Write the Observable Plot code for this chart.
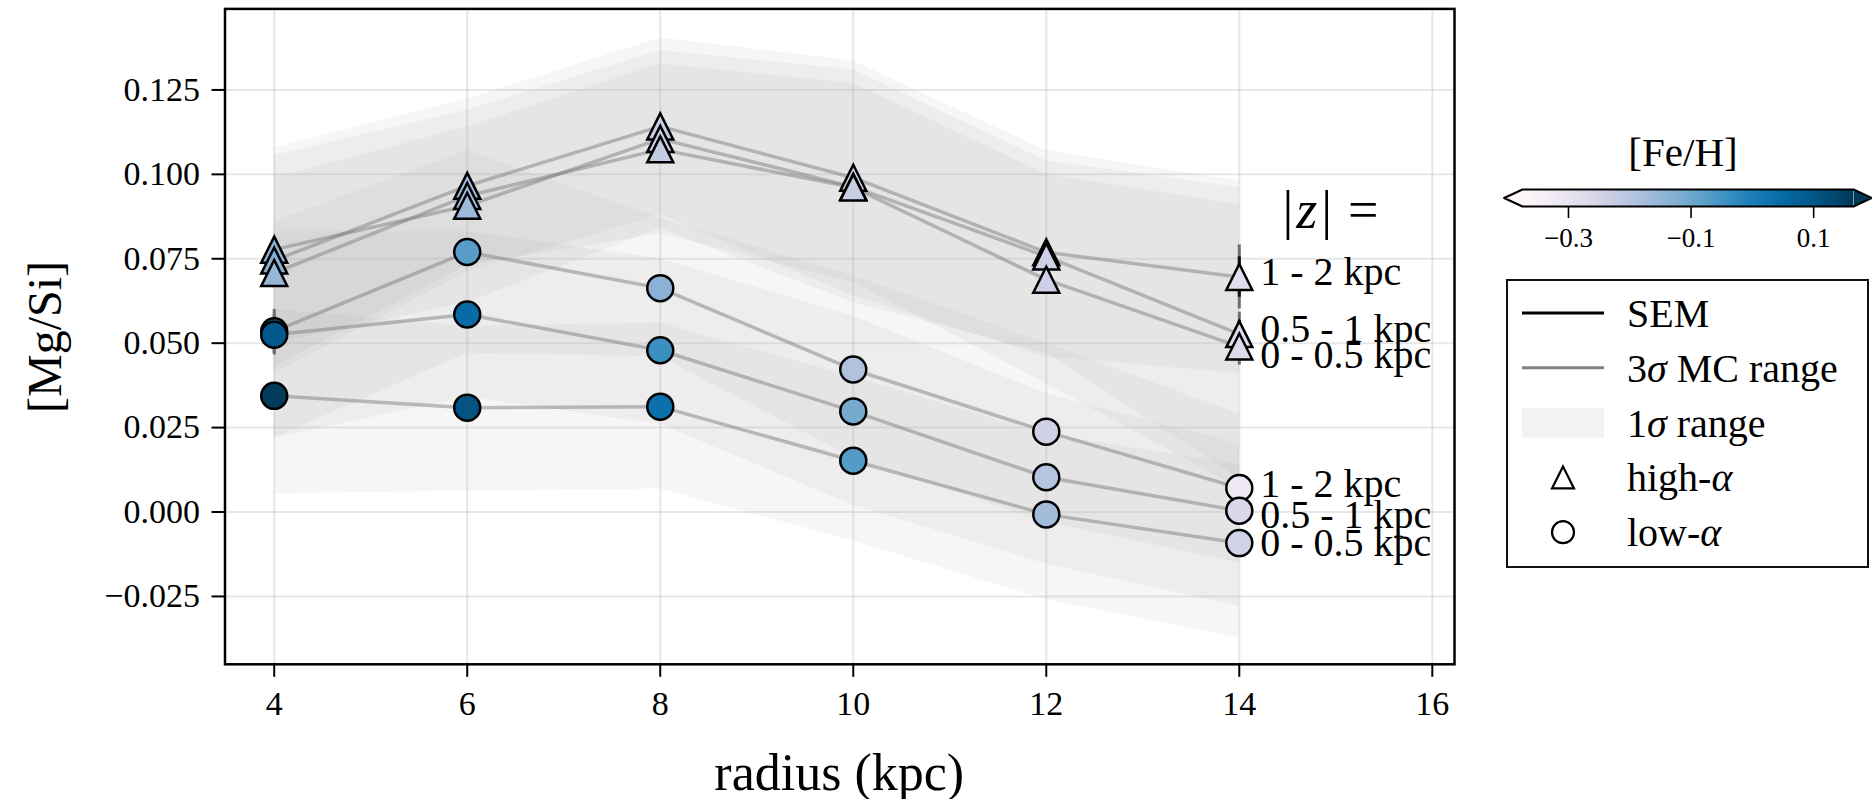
<!DOCTYPE html>
<html>
<head>
<meta charset="utf-8">
<script src="https://cdn.jsdelivr.net/npm/d3@7"></script>
<script src="https://cdn.jsdelivr.net/npm/@observablehq/plot@0.6"></script>
<style>
  body { margin: 0; background: #fff; }
  #wrap { position: relative; width: 1872px; height: 799px; overflow: hidden;
          font-family: "Liberation Serif", "DejaVu Serif", serif; }
  #wrap > svg, #wrap > div { position: absolute; }
</style>
</head>
<body>
<div id="wrap"></div>
<script>
const FONT = '"Liberation Serif", "DejaVu Serif", serif';

// Galactocentric radius bins (kpc) and |z| slices
const radius = [4, 6, 8, 10, 12, 14];
const zBins = ["0 - 0.5 kpc", "0.5 - 1 kpc", "1 - 2 kpc"];
const xTicks = [4, 6, 8, 10, 12, 14, 16];
const yTicks = [-0.025, 0, 0.025, 0.05, 0.075, 0.1, 0.125];
const fehTicks = [-0.3, -0.1, 0.1];
const fehDomain = [-0.375, 0.165];

// high-alpha population, one row per |z| bin (same order as zBins)
const highMgSi = [
  [0.0708, 0.0936, 0.1074, 0.0961, 0.0688, 0.0490],
  [0.0777, 0.0907, 0.1105, 0.0963, 0.0757, 0.0527],
  [0.0745, 0.0966, 0.1142, 0.0990, 0.0769, 0.0696]
];
const highFeH = [
  [-0.15, -0.17, -0.22, -0.23, -0.24, -0.27],
  [-0.14, -0.16, -0.23, -0.23, -0.24, -0.27],
  [-0.13, -0.16, -0.23, -0.24, -0.25, -0.28]
];
const highLo = [
  [0.043, 0.073, 0.0824, 0.068, 0.038, 0.007],
  [0.050, 0.062, 0.084, 0.062, 0.047, 0.010],
  [0.041, 0.071, 0.088, 0.064, 0.046, 0.041]
];
const highHi = [
  [0.099, 0.114, 0.1327, 0.127, 0.100, 0.091],
  [0.1055, 0.119, 0.1366, 0.131, 0.104, 0.096],
  [0.1078, 0.1223, 0.1404, 0.1336, 0.107, 0.098]
];
const highSem = [
  [0.002, 0.002, 0.002, 0.002, 0.002, 0.004],
  [0.002, 0.002, 0.002, 0.002, 0.002, 0.004],
  [0.002, 0.002, 0.002, 0.002, 0.002, 0.006]
];
const highMc = [
  [0.003, 0.003, 0.003, 0.003, 0.003, 0.0055],
  [0.003, 0.003, 0.003, 0.003, 0.003, 0.0065],
  [0.003, 0.003, 0.003, 0.003, 0.003, 0.0095]
];

// low-alpha population
const lowMgSi = [
  [0.0344, 0.0309, 0.0312, 0.0152, -0.0007, -0.0092],
  [0.0525, 0.0585, 0.0479, 0.0298, 0.0103, 0.0004],
  [0.0535, 0.0770, 0.0663, 0.0422, 0.0238, 0.0071]
];
const lowFeH = [
  [0.16, 0.11, 0.035, -0.07, -0.17, -0.245],
  [0.095, 0.046, -0.04, -0.11, -0.197, -0.262],
  [0.09, -0.073, -0.137, -0.19, -0.243, -0.316]
];
const lowLo = [
  [0.0053, 0.0062, 0.0068, -0.0086, -0.026, -0.0373],
  [0.0219, 0.034, 0.026, 0.002, -0.0154, -0.028],
  [0.022, 0.047, 0.046, 0.016, -0.003, -0.015]
];
const lowHi = [
  [0.060, 0.055, 0.056, 0.040, 0.023, 0.014],
  [0.083, 0.083, 0.075, 0.058, 0.035, 0.020],
  [0.086, 0.107, 0.087, 0.070, 0.050, 0.029]
];
const lowSem = [
  [0.002, 0.002, 0.002, 0.002, 0.002, 0.002],
  [0.004, 0.002, 0.002, 0.002, 0.002, 0.002],
  [0.004, 0.002, 0.002, 0.002, 0.002, 0.002]
];
const lowMc = [
  [0.003, 0.003, 0.003, 0.003, 0.003, 0.003],
  [0.006, 0.003, 0.003, 0.003, 0.003, 0.003],
  [0.0065, 0.003, 0.003, 0.003, 0.003, 0.003]
];

// vertical nudge (px) of the |z| slice labels at the outer radius, to keep them apart
const highLabelNudge = [8.5, -5, -4.5];
const lowLabelNudge = [0, 4.5, -4];

// position of the "|z| =" heading, in data units
const zHeading = {r: 14.95, v: 0.0894};

function table(pop, mean, feh, lo, hi, sem, mc, nudge) {
  const out = [];
  zBins.forEach((z, j) => radius.forEach((r, i) => out.push({
    pop, z, key: pop + z, r,
    v: mean[j][i], feh: feh[j][i], lo: lo[j][i], hi: hi[j][i],
    sem: sem[j][i], mc: mc[j][i], nudge: nudge[j]
  })));
  return out;
}
const highRows = table("high", highMgSi, highFeH, highLo, highHi, highSem, highMc, highLabelNudge);
const lowRows = table("low", lowMgSi, lowFeH, lowLo, lowHi, lowSem, lowMc, lowLabelNudge);
const allRows = highRows.concat(lowRows);
const byValue = (a, b) => b.v - a.v;
const endRows = allRows.filter(d => d.r === radius[radius.length - 1]);

// matplotlib-style "^" marker: as wide as it is tall
const triangleUp = {
  draw(ctx, size) {
    const h = Math.sqrt(size / Math.PI);
    ctx.moveTo(0, -h);
    ctx.lineTo(h, h);
    ctx.lineTo(-h, h);
    ctx.closePath();
  }
};

const colorScale = {type: "linear", scheme: "PuBu", domain: fehDomain, clamp: true};

const chart = Plot.plot({
  width: 1872,
  height: 799,
  marginLeft: 224.5,
  marginRight: 418,
  marginTop: 8.4,
  marginBottom: 135.2,
  style: {fontFamily: FONT, fontSize: "34px", color: "black", background: "transparent"},
  x: {domain: [3.49, 16.23]},
  y: {domain: [-0.0451, 0.149]},
  color: colorScale,
  marks: [
    Plot.areaY(allRows, {x: "r", y1: "lo", y2: "hi", z: "key", fill: "#808080", fillOpacity: 0.075}),
    Plot.gridX(xTicks, {stroke: "#b0b0b0", strokeOpacity: 0.3, strokeWidth: 2}),
    Plot.gridY(yTicks, {stroke: "#b0b0b0", strokeOpacity: 0.3, strokeWidth: 2}),
    Plot.line(allRows, {x: "r", y: "v", z: "key", stroke: "#808080", strokeOpacity: 0.5, strokeWidth: 3.5}),
    Plot.ruleX(allRows, {x: "r", y1: d => d.v - d.mc, y2: d => d.v + d.mc, stroke: "#6e6e6e", strokeWidth: 3}),
    Plot.ruleX(allRows, {x: "r", y1: d => d.v - d.sem, y2: d => d.v + d.sem, stroke: "#111", strokeWidth: 3}),
    Plot.dot(highRows.slice().sort(byValue), {x: "r", y: "v", r: 13, symbol: triangleUp, fill: "feh", stroke: "black", strokeWidth: 2.5}),
    Plot.dot(lowRows.slice().sort(byValue), {x: "r", y: "v", r: 13, symbol: "circle", fill: "feh", stroke: "black", strokeWidth: 2.5}),
    ...endRows.map(d => Plot.text([d], {x: "r", y: "v", text: "z", textAnchor: "start", dx: 21, dy: d.nudge, fontSize: 40, lineAnchor: "middle"})),
    Plot.axisX(xTicks, {tickSize: 13, tickPadding: 14, strokeWidth: 2, label: null}),
    Plot.axisY(yTicks, {tickSize: 13, tickPadding: 12, strokeWidth: 2, label: null, tickFormat: d3.format(".3f")}),
    Plot.frame({stroke: "black", strokeWidth: 2.5})
  ]
});

const wrap = document.getElementById("wrap");
chart.style.left = "0px";
chart.style.top = "0px";
wrap.appendChild(chart);

// colour bar for [Fe/H], with extension arrows at both ends
const cbExt = 0.03;
const cbN = 240;
const cbStep = (fehDomain[1] - fehDomain[0]) / cbN;
const cbSteps = d3.range(cbN).map(i => fehDomain[0] + i * cbStep);
const [f0, f1] = fehDomain;
const cbar = Plot.plot({
  width: 382,
  height: 100,
  marginLeft: 32,
  marginRight: 19,
  marginTop: 14,
  marginBottom: 69,
  style: {fontFamily: FONT, fontSize: "27px", color: "black", background: "transparent", overflow: "visible"},
  x: {domain: fehDomain},
  y: {domain: [0, 1], axis: null},
  color: colorScale,
  marks: [
    Plot.rect(cbSteps, {x1: d => d, x2: d => Math.min(d + cbStep * 1.8, f1), y1: 0, y2: 1, fill: d => d}),
    Plot.line([[f0 - cbExt, 0.5], [f0, 1], [f0, 0]], {fill: d3.interpolatePuBu(0), stroke: "none"}),
    Plot.line([[f1 + cbExt, 0.5], [f1, 1], [f1, 0]], {fill: d3.interpolatePuBu(1), stroke: "none"}),
    Plot.line([[f0, 0], [f0 - cbExt, 0.5], [f0, 1], [f1, 1], [f1 + cbExt, 0.5], [f1, 0], [f0, 0]],
      {stroke: "black", strokeWidth: 2}),
    Plot.axisX(fehTicks, {tickSize: 12, tickPadding: 9, strokeWidth: 1.6, label: null, tickFormat: d3.format(".1f")})
  ]
});
cbar.style.left = "1490px";
cbar.style.top = "175px";
wrap.appendChild(cbar);

// titles, axis labels and legend
const x = chart.scale("x"), y = chart.scale("y");
const ov = d3.select(wrap).append("svg")
  .attr("width", 1872).attr("height", 799)
  .style("left", "0px").style("top", "0px")
  .style("font-family", FONT);

ov.append("text")
  .attr("x", (224.5 + 1454) / 2).attr("y", 772)
  .attr("text-anchor", "middle").attr("dominant-baseline", "central")
  .attr("font-size", 52).text("radius (kpc)");

ov.append("text")
  .attr("transform", "translate(44,337) rotate(-90)")
  .attr("text-anchor", "middle").attr("dominant-baseline", "central")
  .attr("font-size", 48).text("[Mg/Si]");

const zh = ov.append("text")
  .attr("x", x.apply(zHeading.r)).attr("y", y.apply(zHeading.v))
  .attr("text-anchor", "middle").attr("dominant-baseline", "central")
  .attr("font-size", 54);
zh.append("tspan").text("|");
zh.append("tspan").attr("dx", 3).attr("font-style", "italic").text("z");
zh.append("tspan").attr("dx", 4).text("|");
zh.append("tspan").attr("dx", 16).text("=");

ov.append("text")
  .attr("x", 1683).attr("y", 152)
  .attr("text-anchor", "middle").attr("dominant-baseline", "central")
  .attr("font-size", 41).text("[Fe/H]");

// legend box
const lg = ov.append("g");
lg.append("rect").attr("x", 1507).attr("y", 280).attr("width", 361).attr("height", 287)
  .attr("fill", "white").attr("stroke", "#111").attr("stroke-width", 2);
const rowY = i => 313 + i * 54.8;
const hx0 = 1522, hx1 = 1604, hxc = 1563, tx = 1627;
lg.append("line").attr("x1", hx0).attr("x2", hx1).attr("y1", rowY(0)).attr("y2", rowY(0))
  .attr("stroke", "black").attr("stroke-width", 3);
lg.append("line").attr("x1", hx0).attr("x2", hx1).attr("y1", rowY(1)).attr("y2", rowY(1))
  .attr("stroke", "#808080").attr("stroke-width", 3);
lg.append("rect").attr("x", hx0).attr("y", rowY(2) - 15).attr("width", hx1 - hx0).attr("height", 30)
  .attr("fill", "#808080").attr("fill-opacity", 0.1);
lg.append("path").attr("d", d3.symbol(triangleUp, 11 * 11 * Math.PI)())
  .attr("transform", `translate(${hxc},${rowY(3)})`)
  .attr("fill", "white").attr("stroke", "black").attr("stroke-width", 2.2);
lg.append("circle").attr("cx", hxc).attr("cy", rowY(4)).attr("r", 11)
  .attr("fill", "white").attr("stroke", "black").attr("stroke-width", 2.2);

const legendText = [
  [["SEM", false]],
  [["3", false], ["σ", true], [" MC range", false]],
  [["1", false], ["σ", true], [" range", false]],
  [["high-", false], ["α", true]],
  [["low-", false], ["α", true]]
];
legendText.forEach((parts, i) => {
  const t = lg.append("text").attr("x", tx).attr("y", rowY(i))
    .attr("dominant-baseline", "central").attr("font-size", 40);
  parts.forEach(([s, it]) => t.append("tspan").attr("font-style", it ? "italic" : null).text(s));
});
</script>
</body>
</html>
